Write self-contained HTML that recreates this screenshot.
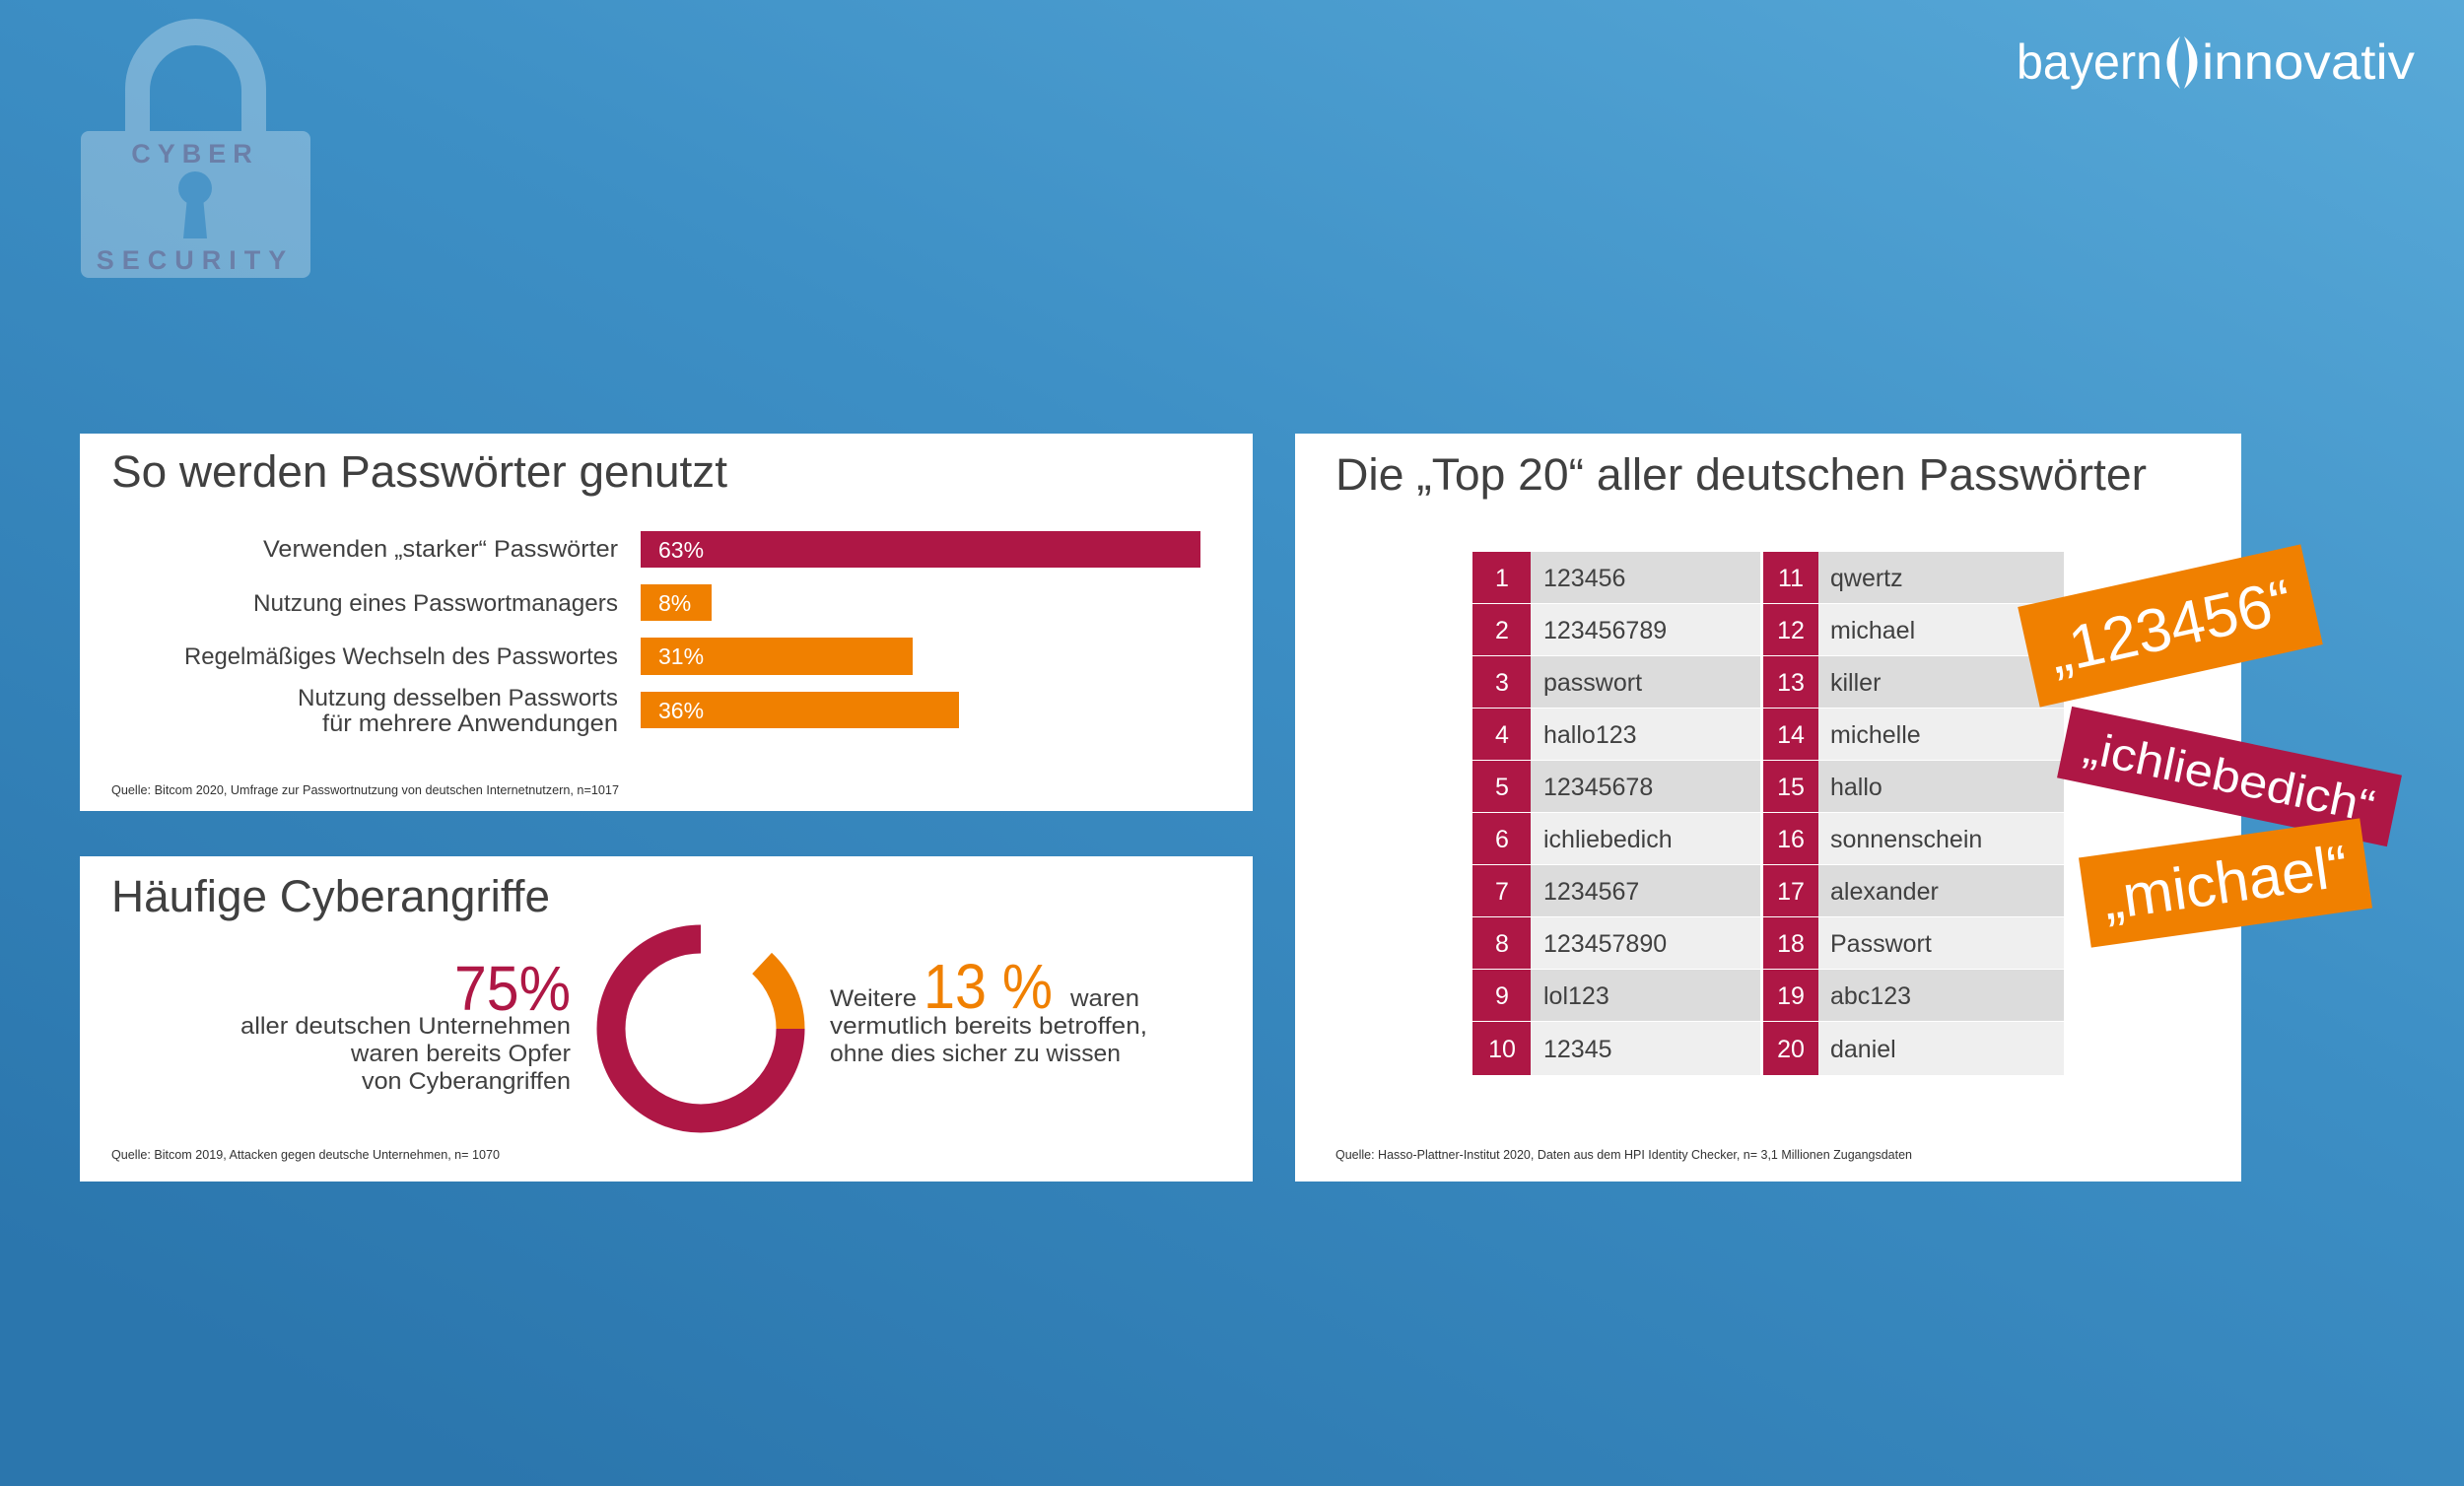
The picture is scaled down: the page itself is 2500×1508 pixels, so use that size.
<!DOCTYPE html>
<html><head><meta charset="utf-8"><style>
html,body{margin:0;padding:0;width:2500px;height:1508px;overflow:hidden}
svg{display:block}
text{font-family:"Liberation Sans",sans-serif}
</style></head><body>
<svg width="2500" height="1508" viewBox="0 0 2500 1508" xmlns="http://www.w3.org/2000/svg">
<defs>
<linearGradient id="bg" x1="1" y1="0" x2="0.2" y2="1">
<stop offset="0" stop-color="#58a9d8"/>
<stop offset="0.45" stop-color="#3d8fc5"/>
<stop offset="1" stop-color="#2b76ad"/>
</linearGradient>
</defs>
<rect width="2500" height="1508" fill="url(#bg)"/>

<!-- lock -->
<g fill="#ffffff" fill-opacity="0.3">
<path d="M127 133 V90 A71.5 71 0 0 1 270 90 V133 H245 V92 A46.5 46 0 0 0 152 92 V133 Z"/>
<rect x="82" y="133" width="233" height="149" rx="8"/>
</g>
<text x="198" y="165" font-size="27" font-weight="bold" fill="#6b7fa8" text-anchor="middle" letter-spacing="7">CYBER</text>
<circle cx="198" cy="191" r="17" fill="#4a95c8"/>
<path d="M190 200 L186 242 H210 L206 200 Z" fill="#4a95c8"/>
<text x="198" y="273" font-size="27" font-weight="bold" fill="#6b7fa8" text-anchor="middle" letter-spacing="8">SECURITY</text>

<!-- logo -->
<text x="2046" y="80" font-size="50" fill="#fff" textLength="148" lengthAdjust="spacingAndGlyphs">bayern</text>
<path d="M2212 37 C2194 52 2194 75 2212 90 C2205 75 2205 52 2212 37 Z M2216 37 C2234 52 2234 75 2216 90 C2223 75 2223 52 2216 37 Z" fill="#fff"/>
<text x="2234" y="80" font-size="50" fill="#fff" textLength="216" lengthAdjust="spacingAndGlyphs">innovativ</text>

<!-- panel 1 -->
<rect x="81" y="440" width="1190" height="383" fill="#fff"/>
<text x="113" y="494" font-size="45" fill="#404040" textLength="625" lengthAdjust="spacingAndGlyphs">So werden Passwörter genutzt</text>
<g font-size="24" fill="#404040" text-anchor="end">
<text x="627" y="565" textLength="360" lengthAdjust="spacingAndGlyphs">Verwenden „starker“ Passwörter</text>
<text x="627" y="620" textLength="370" lengthAdjust="spacingAndGlyphs">Nutzung eines Passwortmanagers</text>
<text x="627" y="674" textLength="440" lengthAdjust="spacingAndGlyphs">Regelmäßiges Wechseln des Passwortes</text>
<text x="627" y="716" textLength="325" lengthAdjust="spacingAndGlyphs">Nutzung desselben Passworts</text>
<text x="627" y="742" textLength="300" lengthAdjust="spacingAndGlyphs">für mehrere Anwendungen</text>
</g>
<rect x="650" y="539" width="568" height="37" fill="#ae1745"/>
<rect x="650" y="593" width="72" height="37" fill="#f08000"/>
<rect x="650" y="647" width="276" height="38" fill="#f08000"/>
<rect x="650" y="702" width="323" height="37" fill="#f08000"/>
<g font-size="23" fill="#fff">
<text x="668" y="566">63%</text>
<text x="668" y="620">8%</text>
<text x="668" y="674">31%</text>
<text x="668" y="729">36%</text>
</g>
<text x="113" y="806" font-size="12.5" fill="#333" textLength="515" lengthAdjust="spacingAndGlyphs">Quelle: Bitcom 2020, Umfrage zur Passwortnutzung von deutschen Internetnutzern, n=1017</text>

<!-- panel 2 -->
<rect x="81" y="869" width="1190" height="330" fill="#fff"/>
<text x="113" y="925" font-size="45" fill="#404040" textLength="445" lengthAdjust="spacingAndGlyphs">Häufige Cyberangriffe</text>
<text x="579" y="1025" font-size="64" fill="#ae1745" text-anchor="end" textLength="118" lengthAdjust="spacingAndGlyphs">75%</text>
<g font-size="24" fill="#404040" text-anchor="end">
<text x="579" y="1049" textLength="335" lengthAdjust="spacingAndGlyphs">aller deutschen Unternehmen</text>
<text x="579" y="1077" textLength="223" lengthAdjust="spacingAndGlyphs">waren bereits Opfer</text>
<text x="579" y="1105" textLength="212" lengthAdjust="spacingAndGlyphs">von Cyberangriffen</text>
</g>
<path d="M802 1044 A91 91 0 1 1 711 953" fill="none" stroke="#ae1745" stroke-width="29"/>
<path d="M773.1 977.5 A91 91 0 0 1 802 1044" fill="none" stroke="#f08000" stroke-width="29"/>
<g font-size="24" fill="#404040">
<text x="842" y="1021" textLength="88" lengthAdjust="spacingAndGlyphs">Weitere</text>
<text x="1086" y="1021" textLength="70" lengthAdjust="spacingAndGlyphs">waren</text>
<text x="842" y="1049" textLength="322" lengthAdjust="spacingAndGlyphs">vermutlich bereits betroffen,</text>
<text x="842" y="1077" textLength="295" lengthAdjust="spacingAndGlyphs">ohne dies sicher zu wissen</text>
</g>
<text x="937" y="1023" font-size="64" fill="#f08000" textLength="131" lengthAdjust="spacingAndGlyphs">13 %</text>
<text x="113" y="1176" font-size="12.5" fill="#333" textLength="394" lengthAdjust="spacingAndGlyphs">Quelle: Bitcom 2019, Attacken gegen deutsche Unternehmen, n= 1070</text>

<!-- panel 3 -->
<rect x="1314" y="440" width="960" height="759" fill="#fff"/>
<text x="1355" y="497" font-size="45" fill="#404040" textLength="823" lengthAdjust="spacingAndGlyphs">Die „Top 20“ aller deutschen Passwörter</text>
<g>
<g fill="#dcdcdc">
<rect x="1553" y="560" width="233" height="52"/><rect x="1845" y="560" width="249" height="52"/>
<rect x="1553" y="666" width="233" height="52"/><rect x="1845" y="666" width="249" height="52"/>
<rect x="1553" y="772" width="233" height="52"/><rect x="1845" y="772" width="249" height="52"/>
<rect x="1553" y="878" width="233" height="52"/><rect x="1845" y="878" width="249" height="52"/>
<rect x="1553" y="984" width="233" height="52"/><rect x="1845" y="984" width="249" height="52"/>
</g>
<g fill="#efefef">
<rect x="1553" y="613" width="233" height="52"/><rect x="1845" y="613" width="249" height="52"/>
<rect x="1553" y="719" width="233" height="52"/><rect x="1845" y="719" width="249" height="52"/>
<rect x="1553" y="825" width="233" height="52"/><rect x="1845" y="825" width="249" height="52"/>
<rect x="1553" y="931" width="233" height="52"/><rect x="1845" y="931" width="249" height="52"/>
<rect x="1553" y="1037" width="233" height="54"/><rect x="1845" y="1037" width="249" height="54"/>
</g>
<g fill="#ae1745">
<rect x="1494" y="560" width="59" height="52"/><rect x="1789" y="560" width="56" height="52"/>
<rect x="1494" y="613" width="59" height="52"/><rect x="1789" y="613" width="56" height="52"/>
<rect x="1494" y="666" width="59" height="52"/><rect x="1789" y="666" width="56" height="52"/>
<rect x="1494" y="719" width="59" height="52"/><rect x="1789" y="719" width="56" height="52"/>
<rect x="1494" y="772" width="59" height="52"/><rect x="1789" y="772" width="56" height="52"/>
<rect x="1494" y="825" width="59" height="52"/><rect x="1789" y="825" width="56" height="52"/>
<rect x="1494" y="878" width="59" height="52"/><rect x="1789" y="878" width="56" height="52"/>
<rect x="1494" y="931" width="59" height="52"/><rect x="1789" y="931" width="56" height="52"/>
<rect x="1494" y="984" width="59" height="52"/><rect x="1789" y="984" width="56" height="52"/>
<rect x="1494" y="1037" width="59" height="54"/><rect x="1789" y="1037" width="56" height="54"/>
</g>
<g font-size="25" fill="#fff" text-anchor="middle">
<text x="1524" y="595">1</text><text x="1817" y="595">11</text>
<text x="1524" y="648">2</text><text x="1817" y="648">12</text>
<text x="1524" y="701">3</text><text x="1817" y="701">13</text>
<text x="1524" y="754">4</text><text x="1817" y="754">14</text>
<text x="1524" y="807">5</text><text x="1817" y="807">15</text>
<text x="1524" y="860">6</text><text x="1817" y="860">16</text>
<text x="1524" y="913">7</text><text x="1817" y="913">17</text>
<text x="1524" y="966">8</text><text x="1817" y="966">18</text>
<text x="1524" y="1019">9</text><text x="1817" y="1019">19</text>
<text x="1524" y="1073">10</text><text x="1817" y="1073">20</text>
</g>
<g font-size="25" fill="#404040">
<text x="1566" y="595">123456</text><text x="1857" y="595">qwertz</text>
<text x="1566" y="648">123456789</text><text x="1857" y="648">michael</text>
<text x="1566" y="701">passwort</text><text x="1857" y="701">killer</text>
<text x="1566" y="754">hallo123</text><text x="1857" y="754">michelle</text>
<text x="1566" y="807">12345678</text><text x="1857" y="807">hallo</text>
<text x="1566" y="860">ichliebedich</text><text x="1857" y="860">sonnenschein</text>
<text x="1566" y="913">1234567</text><text x="1857" y="913">alexander</text>
<text x="1566" y="966">123457890</text><text x="1857" y="966">Passwort</text>
<text x="1566" y="1019">lol123</text><text x="1857" y="1019">abc123</text>
<text x="1566" y="1073">12345</text><text x="1857" y="1073">daniel</text>
</g>
</g>
<text x="1355" y="1176" font-size="12.5" fill="#333" textLength="585" lengthAdjust="spacingAndGlyphs">Quelle: Hasso-Plattner-Institut 2020, Daten aus dem HPI Identity Checker, n= 3,1 Millionen Zugangsdaten</text>

<!-- stickers -->
<g transform="translate(2202,635) rotate(-12.5)">
<rect x="-147" y="-52" width="294" height="104" fill="#f08000"/>
<text x="0" y="22" font-size="62" fill="#fff" text-anchor="middle" textLength="250" lengthAdjust="spacingAndGlyphs">„123456“</text>
</g>
<g transform="translate(2262,788) rotate(11.8)">
<rect x="-171" y="-37" width="342" height="74" fill="#ae1745"/>
<text x="0" y="16" font-size="46" fill="#fff" text-anchor="middle" textLength="300" lengthAdjust="spacingAndGlyphs">„ichliebedich“</text>
</g>
<g transform="translate(2258,896) rotate(-8)">
<rect x="-144" y="-46" width="288" height="92" fill="#f08000"/>
<text x="0" y="20" font-size="60" fill="#fff" text-anchor="middle" textLength="250" lengthAdjust="spacingAndGlyphs">„michael“</text>
</g>
</svg>
</body></html>
